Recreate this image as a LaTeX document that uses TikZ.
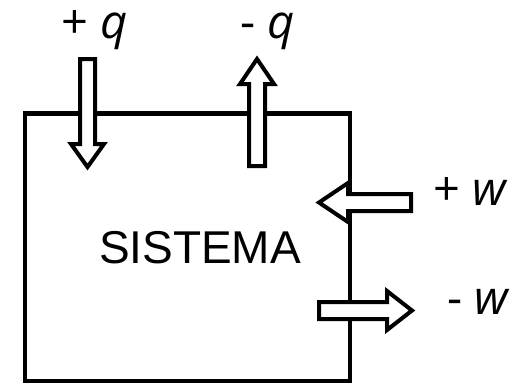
\documentclass[tikz,border=0pt]{standalone}
\usepackage{fontspec}
\setmainfont{Liberation Sans}
\newfontfamily\lblfont{Open Sans}
\begin{document}
\begin{tikzpicture}[x=1pt,y=-1pt,
  boxline/.style={line width=4.5pt, line join=miter},
  fatarrow/.style={draw=black, fill=white, line width=4pt, line join=miter, miter limit=10},
  lbl/.style={font=\lblfont\fontsize{47}{56}\selectfont, inner sep=0pt, anchor=base}]
\useasboundingbox (0,0) rectangle (516,383);
% system box
\draw[boxline] (25,113.5) rectangle (350,381);
\node[font=\fontsize{46}{55}\selectfont, inner sep=0pt, anchor=base] (sys) at (200,263) {SISTEMA};
% +q arrow (down, into system)
\draw[fatarrow] (80,59) -- (95,59) -- (95,144) -- (104,144) -- (87.5,167) -- (71,144) -- (80,144) -- cycle;
% -q arrow (up, out of system)
\draw[fatarrow] (249,166) -- (265,166) -- (265,84) -- (274,84) -- (257,59) -- (240,84) -- (249,84) -- cycle;
% +w arrow (left, into system)
\draw[fatarrow] (411,194) -- (411,211) -- (348,211) -- (348,222) -- (319,202.5) -- (348,183) -- (348,194) -- cycle;
% -w arrow (right, out of system)
\draw[fatarrow] (319,302) -- (319,319) -- (387,319) -- (387,330) -- (412,310.5) -- (387,291) -- (387,302) -- cycle;
% labels
\node[lbl] (pq) at (94.5,38) {+ \textit{q}};
\node[lbl] (mq) at (267.5,38) {- \textit{q}};
\node[lbl] (pw) at (471,205) {+ \textit{w}};
\node[lbl] (mw) at (479,314) {- \textit{w}};
\end{tikzpicture}
\end{document}
